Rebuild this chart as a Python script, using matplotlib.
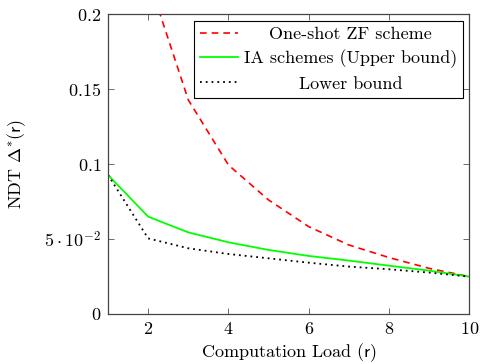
import matplotlib
matplotlib.use("Agg")
import matplotlib.pyplot as plt
from matplotlib.transforms import Affine2D

plt.rcParams['font.family'] = ['cmr10', 'DejaVu Serif']
plt.rcParams['mathtext.fontset'] = 'cm'
plt.rcParams['axes.formatter.use_mathtext'] = True

r = [1, 2, 3, 4, 5, 6, 7, 8, 9, 10]
zf = [0.224, 0.224, 0.1427, 0.0993, 0.076, 0.0582, 0.046, 0.0376, 0.0304, 0.0249]
ia = [0.0927, 0.0649, 0.0544, 0.0478, 0.0427, 0.0387, 0.0356, 0.0322, 0.0289, 0.0249]
lb = [0.0927, 0.0504, 0.0438, 0.0400, 0.0371, 0.0342, 0.0316, 0.0298, 0.0276, 0.0249]
labels = ["One-shot ZF scheme", "IA schemes (Upper bound)", "Lower bound"]
xticks = [2, 4, 6, 8, 10]
yticks = [0, 0.05, 0.1, 0.15, 0.2]
yticklabels = ["$0$", r"$5\cdot10^{-2}$", "$0.1$", "$0.15$", "$0.2$"]

FS = 13

fig = plt.figure(figsize=(4.8, 3.64), dpi=100)
ax = fig.add_axes([0.225, 0.1374, 0.753, 0.8241])

ax.plot(r[1:], zf[1:], color='#ff0000', linestyle=(0, (4, 3)), lw=1.2, label=labels[0])
ax.plot(r, ia, color='#00ff00', lw=1.3, label=labels[1])
ax.plot(r, lb, color='black', linestyle=(0, (1, 2.2)), lw=1.3, label=labels[2])

ax.set_xlim(1, 10)
ax.set_ylim(0, 0.2)
ax.set_xticks(xticks)
ax.set_xticklabels(["$%d$" % t for t in xticks])
ax.set_yticks(yticks)
ax.set_yticklabels(yticklabels)
ax.tick_params(direction='in', top=True, right=True, length=4, width=0.6,
               labelsize=FS, color='#555555', pad=5)
for s in ax.spines.values():
    s.set_color('#444444')
    s.set_linewidth(0.9)

ax.set_xlabel(r"Computation Load ($\mathsf{r}$)", fontsize=FS)
ax.set_ylabel(r"NDT $\Delta^{*}(\mathsf{r})$", fontsize=FS)
ax.xaxis.set_label_coords(0.5, -0.09)
ax.yaxis.set_label_coords(-0.221, 0.5)

leg = ax.legend(loc='upper right', fontsize=FS, frameon=True, fancybox=False,
                edgecolor='black', framealpha=1, borderpad=0.33,
                labelspacing=0.42, handlelength=2.1, handletextpad=0.3,
                borderaxespad=0.36)
leg.get_frame().set_linewidth(0.8)

fig.canvas.draw()
renderer = fig.canvas.get_renderer()
texts = leg.get_texts()
widths = [t.get_window_extent(renderer).width for t in texts]
maxw = max(widths)
for t, w in zip(texts, widths):
    t.set_transform(t.get_transform() + Affine2D().translate((maxw - w) / 2, 0))

fig.savefig("out.png", dpi=100)
